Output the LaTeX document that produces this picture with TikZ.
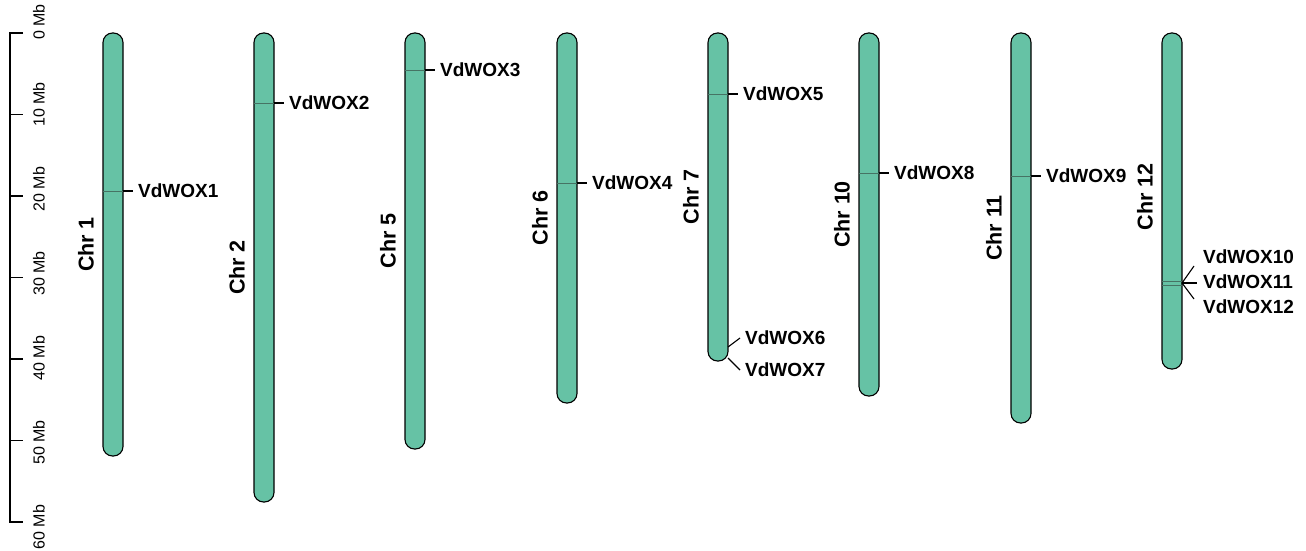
\documentclass[tikz,border=0pt]{standalone}
\usepackage{fontspec}
\setmainfont{Liberation Sans}
\usetikzlibrary{positioning}
\definecolor{chrgreen}{RGB}{102,194,165}
\definecolor{markgray}{RGB}{70,115,100}
\tikzset{
  chrom/.style={draw=black, line width=1.1pt, fill=chrgreen, rounded corners=9.5pt},
  geneline/.style={draw=markgray, line width=0.7pt},
  tickline/.style={draw=black, line width=1.1pt},
  genelab/.style={anchor=west, inner xsep=5pt, inner ysep=0pt, font=\fontsize{19}{21}\selectfont\bfseries},
  chrlab/.style={rotate=90, inner sep=0pt, font=\fontsize{21.5}{23}\selectfont\bfseries},
  mblab/.style={rotate=90, inner sep=0pt, font=\fontsize{16}{18}\selectfont}
}
\begin{document}
\begin{tikzpicture}[x=1pt,y=-1pt]
\useasboundingbox (0,0) rectangle (1306,550);
% scale bar
\draw[tickline] (23,33) -- (10,33) -- (10,522) -- (23,522);
\foreach \i in {1,...,5}
  \draw[tickline] (10,33+81.5*\i) -- (23,33+81.5*\i);
\foreach \i/\t in {1/10,2/20,3/30,4/40,5/50,6/60}
  \node[mblab] (mb\i) at (39,20+84.5*\i) {\t\ Mb};
\node[mblab] (mb0) at (39,22) {0 Mb};
% chromosomes
\draw[chrom] (103,33) rectangle (123,456);
\draw[chrom] (254,33) rectangle (274,502);
\draw[chrom] (405,33) rectangle (425,449);
\draw[chrom] (557,33) rectangle (577,403);
\draw[chrom] (708,33) rectangle (728,361);
\draw[chrom] (859,33) rectangle (879,396);
\draw[chrom] (1011,33) rectangle (1031,423);
\draw[chrom] (1162,33) rectangle (1182,369);
\node[chrlab] (chr1) at (86,244.5) {Chr 1};
\node[chrlab] (chr2) at (237,267.5) {Chr 2};
\node[chrlab] (chr5) at (388,241) {Chr 5};
\node[chrlab] (chr6) at (540,218) {Chr 6};
\node[chrlab] (chr7) at (691,197) {Chr 7};
\node[chrlab] (chr10) at (842,214.5) {Chr 10};
\node[chrlab] (chr11) at (994,228) {Chr 11};
\node[chrlab] (chr12) at (1145,197) {Chr 12};
% gene positions
\draw[geneline] (103,191) -- (123,191);
\draw[geneline] (254,103) -- (274,103);
\draw[geneline] (405,70) -- (425,70);
\draw[geneline] (557,183) -- (577,183);
\draw[geneline] (708,94) -- (728,94);
\draw[geneline] (859,173) -- (879,173);
\draw[geneline] (1011,176) -- (1031,176);
\draw[geneline] (1162,281.5) -- (1182,281.5);
\draw[geneline] (1162,285) -- (1182,285);
% gene labels
\coordinate (p1) at (123,191);
\node[genelab] (g1) at (133,191) {VdWOX1};
\coordinate (p2) at (274,103);
\node[genelab] (g2) at (284,103) {VdWOX2};
\coordinate (p3) at (425,70);
\node[genelab] (g3) at (435,70) {VdWOX3};
\coordinate (p4) at (577,183);
\node[genelab] (g4) at (587,183) {VdWOX4};
\coordinate (p5) at (728,94);
\node[genelab] (g5) at (738,94) {VdWOX5};
\coordinate (p6) at (728,347);
\node[genelab] (g6) at (740,338) {VdWOX6};
\coordinate (p7) at (728,358);
\node[genelab] (g7) at (740,370) {VdWOX7};
\coordinate (p8) at (879,173);
\node[genelab] (g8) at (889,173) {VdWOX8};
\coordinate (p9) at (1031,176);
\node[genelab] (g9) at (1041,176) {VdWOX9};
\coordinate (p10) at (1182,283);
\coordinate (e10) at (1194,266);
\coordinate (e11) at (1197,283);
\coordinate (e12) at (1194,299);
\node[genelab] (g10) at (1198,257) {VdWOX10};
\node[genelab] (g11) at (1198,282) {VdWOX11};
\node[genelab] (g12) at (1198,307) {VdWOX12};
\draw[tickline] (p1) -- (g1.west);
\draw[tickline] (p2) -- (g2.west);
\draw[tickline] (p3) -- (g3.west);
\draw[tickline] (p4) -- (g4.west);
\draw[tickline] (p5) -- (g5.west);
\draw[tickline] (p6) -- (g6.west);
\draw[tickline] (p7) -- (g7.west);
\draw[tickline] (p8) -- (g8.west);
\draw[tickline] (p9) -- (g9.west);
\draw[tickline] (p10) -- (e10);
\draw[tickline] (p10) -- (e11);
\draw[tickline] (p10) -- (e12);
\end{tikzpicture}
\end{document}
